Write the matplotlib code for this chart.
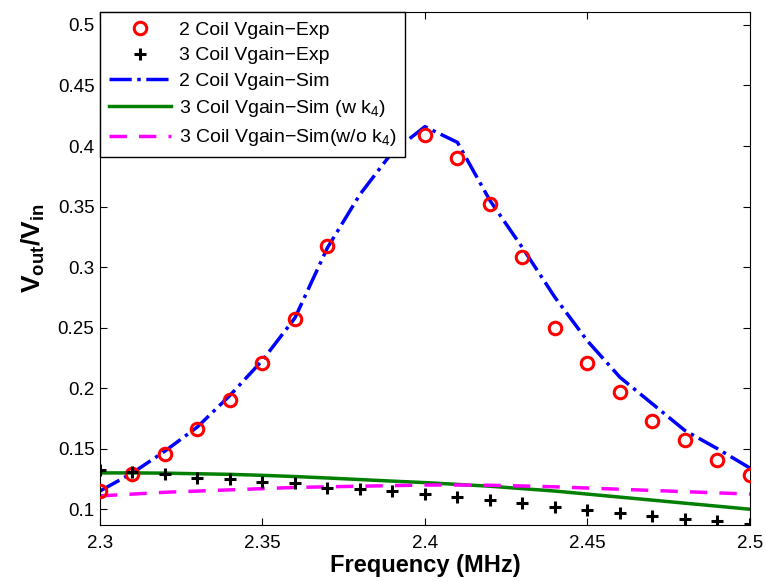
import matplotlib
matplotlib.use('Agg')
import matplotlib.pyplot as plt

plt.rcParams['font.family'] = ['Liberation Sans', 'DejaVu Sans']
plt.rcParams['mathtext.fontset'] = 'custom'
plt.rcParams['mathtext.rm'] = 'Liberation Sans'
plt.rcParams['mathtext.it'] = 'Liberation Sans:italic'
plt.rcParams['mathtext.bf'] = 'Liberation Sans:bold'

# frequency points (MHz)
freq = [2.30, 2.31, 2.32, 2.33, 2.34, 2.35, 2.36, 2.37, 2.38, 2.39, 2.40,
        2.41, 2.42, 2.43, 2.44, 2.45, 2.46, 2.47, 2.48, 2.49, 2.50]

# 2 coil measured (no points at 2.38 / 2.39)
freq_2exp = [2.30, 2.31, 2.32, 2.33, 2.34, 2.35, 2.36, 2.37,
             2.40, 2.41, 2.42, 2.43, 2.44, 2.45, 2.46, 2.47, 2.48, 2.49, 2.50]
gain_2exp = [0.115, 0.129, 0.146, 0.166, 0.190, 0.221, 0.257, 0.317,
             0.409, 0.390, 0.352, 0.308, 0.250, 0.221, 0.197, 0.173, 0.157, 0.141, 0.128]

# 3 coil measured
gain_3exp = [0.132, 0.131, 0.129, 0.126, 0.125, 0.1225, 0.1215, 0.1175, 0.1165, 0.115, 0.1125,
             0.110, 0.1075, 0.105, 0.102, 0.099, 0.097, 0.094, 0.092, 0.090, 0.088]

# simulations
gain_2sim = [0.115, 0.130, 0.148, 0.168, 0.194, 0.223, 0.258, 0.316, 0.360, 0.395, 0.416,
             0.403, 0.355, 0.316, 0.275, 0.239, 0.209, 0.187, 0.165, 0.150, 0.134]
gain_3sim_k4 = [0.130, 0.130, 0.1298, 0.1293, 0.1288, 0.128, 0.127, 0.1258, 0.1245, 0.1232, 0.122,
                0.1205, 0.119, 0.117, 0.115, 0.1125, 0.110, 0.1075, 0.105, 0.1025, 0.100]
gain_3sim_nok4 = [0.111, 0.1125, 0.114, 0.115, 0.116, 0.117, 0.118, 0.1185, 0.119, 0.1195, 0.120,
                  0.120, 0.1198, 0.1192, 0.1185, 0.1175, 0.1165, 0.1155, 0.1145, 0.1135, 0.1125]

fig = plt.figure(figsize=(7.66, 5.82), dpi=100)
ax = fig.add_axes([0.1305, 0.098, 0.8485, 0.881])

ax.plot(freq, gain_2sim, color='#0000ff', linestyle='-.', lw=2.5, zorder=2)
ax.plot(freq, gain_3sim_k4, color='#007f00', linestyle='-', lw=2.5, zorder=2)
ax.plot(freq, gain_3sim_nok4, color='#ff00ff', linestyle=(0, (5, 3.5)), lw=2.5, zorder=2)
ax.plot(freq_2exp, gain_2exp, 'o', mfc='none', mec='#ff0000', mew=2.2, ms=9, zorder=3)
ax.plot(freq, gain_3exp, '+', color='black', mew=2.2, ms=9, zorder=3)

# legend in the MATLAB order
h = ax.get_lines()
ax.legend([h[3], h[4], h[0], h[1], h[2]],
          ['2 Coil Vgain\u2212Exp', '3 Coil Vgain\u2212Exp', '2 Coil Vgain\u2212Sim',
           r'3 Coil Vgain$-$Sim (w k$_4$)', r'3 Coil Vgain$-$Sim(w/o k$_4$)'],
          loc='upper left', borderaxespad=0, fontsize=14, fancybox=False,
          edgecolor='black', framealpha=1, handlelength=3.2, handletextpad=0.4,
          labelspacing=0.42, borderpad=0.45)
ax.get_legend().get_frame().set_linewidth(1.0)

ax.set_xlim(2.3, 2.5)
ax.set_ylim(0.087, 0.5105)
ax.set_xticks([2.3, 2.35, 2.4, 2.45, 2.5])
ax.set_xticklabels(['2.3', '2.35', '2.4', '2.45', '2.5'])
ax.set_yticks([0.1, 0.15, 0.2, 0.25, 0.3, 0.35, 0.4, 0.45, 0.5])
ax.set_yticklabels(['0.1', '0.15', '0.2', '0.25', '0.3', '0.35', '0.4', '0.45', '0.5'])
ax.tick_params(direction='in', top=True, right=True, labelsize=13.5, length=5)
ax.tick_params(axis='y', pad=4)
ax.tick_params(axis='x', pad=7)

ax.set_xlabel('Frequency (MHz)', fontsize=17, fontweight='bold', labelpad=2)
ax.set_ylabel(r'$\mathbf{V_{out}/V_{in}}$', fontsize=19)
ax.yaxis.set_label_coords(-0.082, 0.54)

fig.savefig('out.png', dpi=100)
